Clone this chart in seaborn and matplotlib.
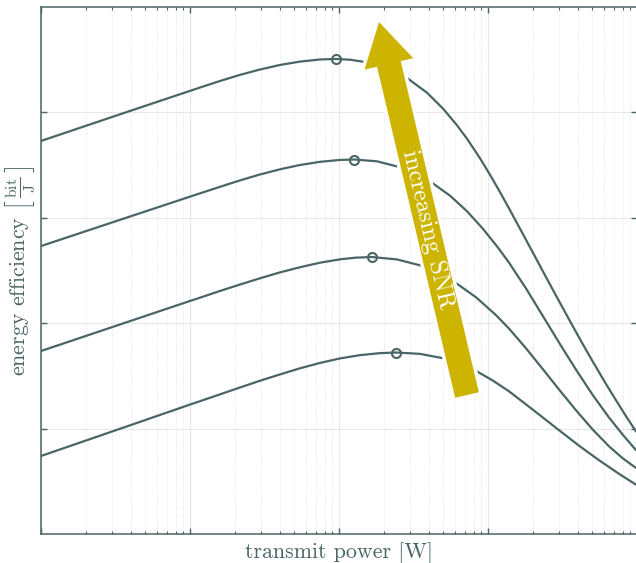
import pandas as pd
import matplotlib
matplotlib.use("Agg")
import matplotlib.pyplot as plt
import seaborn as sns

# valores (potencia en W, eficiencia en unidades del eje)
p1 = [0.001, 0.003138, 0.01167, 0.0159, 0.02165, 0.02949, 0.04017, 0.05472, 0.07453,
      0.09547, 0.1185, 0.1495, 0.2067, 0.2860, 0.3896, 0.4989, 0.6194, 0.7229,
      0.8838, 1.031, 1.204, 1.405, 1.691, 2.036, 2.451, 2.996, 3.606, 4.340,
      5.067, 6.194, 7.229, 8.437, 9.847]
ee1 = [3.729, 3.966, 4.236, 4.298, 4.356, 4.407, 4.450, 4.482, 4.502,
       4.507, 4.500, 4.478, 4.423, 4.327, 4.187, 4.036, 3.878, 3.750,
       3.565, 3.409, 3.244, 3.072, 2.862, 2.650, 2.437, 2.210, 2.002, 1.798,
       1.632, 1.423, 1.269, 1.118, 0.973]

p2 = [0.001, 0.003138, 0.01167, 0.0159, 0.02165, 0.02949, 0.04017, 0.05472, 0.07453,
      0.1016, 0.1260, 0.1799, 0.2489, 0.3237, 0.4207, 0.5559, 0.7229, 0.9256,
      1.167, 1.383, 1.799, 2.451, 3.090, 3.896, 5.067, 6.488, 8.054, 9.847]
ee2 = [2.732, 2.965, 3.232, 3.294, 3.355, 3.411, 3.460, 3.501, 3.531,
       3.549, 3.553, 3.536, 3.485, 3.420, 3.333, 3.210, 3.062, 2.895,
       2.717, 2.575, 2.330, 2.019, 1.786, 1.559, 1.315, 1.105, 0.939, 0.796]

p3 = [0.001, 0.003138, 0.01, 0.01167, 0.0159, 0.02165, 0.02949, 0.04017, 0.05472,
      0.07453, 0.1016, 0.1300, 0.1665, 0.2451, 0.3497, 0.4545, 0.6005, 0.8308,
      1.131, 1.383, 1.799, 2.340, 2.996, 3.896, 5.067, 6.488, 8.054, 9.847]
ee3 = [1.736, 1.972, 2.211, 2.242, 2.306, 2.367, 2.426, 2.482, 2.531,
       2.574, 2.606, 2.622, 2.628, 2.605, 2.549, 2.483, 2.388, 2.246,
       2.077, 1.949, 1.762, 1.562, 1.371, 1.174, 0.988, 0.832, 0.716, 0.627]

p4 = [0.001, 0.003138, 0.01, 0.01167, 0.0159, 0.02165, 0.02949, 0.04017, 0.05472,
      0.07453, 0.1016, 0.1383, 0.1884, 0.2413, 0.3497, 0.4989, 0.6488, 0.8438,
      1.080, 1.383, 2.036, 2.996, 4.081, 5.559, 7.572, 9.847]
ee4 = [0.740, 0.982, 1.228, 1.260, 1.325, 1.390, 1.454, 1.514, 1.572,
       1.623, 1.666, 1.697, 1.716, 1.722, 1.709, 1.668, 1.616, 1.542,
       1.455, 1.354, 1.171, 0.985, 0.838, 0.700, 0.571, 0.468]

# maximos de cada curva
p_opt = [0.09547, 0.1260, 0.1665, 0.2413]
ee_opt = [4.507, 3.553, 2.628, 1.722]

color = "#4a6566"
amarillo = "#ccb400"

df = pd.concat([
    pd.DataFrame({"p": p1, "ee": ee1, "curva": "1"}),
    pd.DataFrame({"p": p2, "ee": ee2, "curva": "2"}),
    pd.DataFrame({"p": p3, "ee": ee3, "curva": "3"}),
    pd.DataFrame({"p": p4, "ee": ee4, "curva": "4"}),
])

sns.set_style("ticks")
plt.rcParams["font.family"] = "serif"
plt.rcParams["font.serif"] = ["cmr10"]
plt.rcParams["mathtext.fontset"] = "cm"
plt.rcParams["axes.formatter.use_mathtext"] = True

fig = plt.figure(figsize=(6.36, 5.63), dpi=100)
ax = fig.add_axes([41 / 636, 29 / 563, 596 / 636, 527 / 563])

sns.lineplot(data=df, x="p", y="ee", hue="curva", palette=[color] * 4,
             estimator=None, legend=False, linewidth=1.6, ax=ax, zorder=3)
ax.plot(p_opt, ee_opt, "o", mfc="none", mec=color, mew=1.5, ms=6.5, zorder=4)

ax.set_xscale("log")
ax.set_xlim(1e-3, 10)
ax.set_ylim(0, 5)
ax.set_yticks([1, 2, 3, 4])

ax.grid(which="major", color="#e8e8e8", lw=0.8)
ax.grid(which="minor", axis="x", color="#e0e0e0", lw=0.6, ls=":")
ax.set_axisbelow(True)

ax.tick_params(which="both", direction="in", top=True, right=True,
               labelbottom=False, labelleft=False, color=color)
ax.tick_params(which="major", length=4.5, width=1)
ax.tick_params(which="minor", length=2.5, width=0.8)
for s in ax.spines.values():
    s.set_color(color)
    s.set_linewidth(1.1)

ax.set_xlabel("transmit power [W]", fontsize=15.8, color=color, labelpad=6)
ax.set_ylabel(r"energy efficiency $\left[\,\frac{\mathrm{bit}}{\mathrm{J}}\,\right]$",
              fontsize=15.8, color=color, labelpad=3)

# flecha "increasing SNR" (primero un borde blanco, luego la flecha)
estilo = "simple,head_length=3.1,head_width=3.6,tail_width=1.75"
for fc, lw in [("white", 5), (amarillo, 0)]:
    ax.annotate("", xy=(379, 541), xytext=(467, 168),
                xycoords="figure pixels", textcoords="figure pixels",
                arrowprops=dict(arrowstyle=estilo, fc=fc, ec="white" if lw else "none",
                                lw=lw, shrinkA=0, shrinkB=0, mutation_scale=10),
                zorder=6)
ax.text(428, 334, "increasing SNR", transform=None, rotation=-76.7,
        rotation_mode="anchor", ha="center", va="center", fontsize=17.5,
        color="white", zorder=7)

fig.savefig("out.png", dpi=100)
